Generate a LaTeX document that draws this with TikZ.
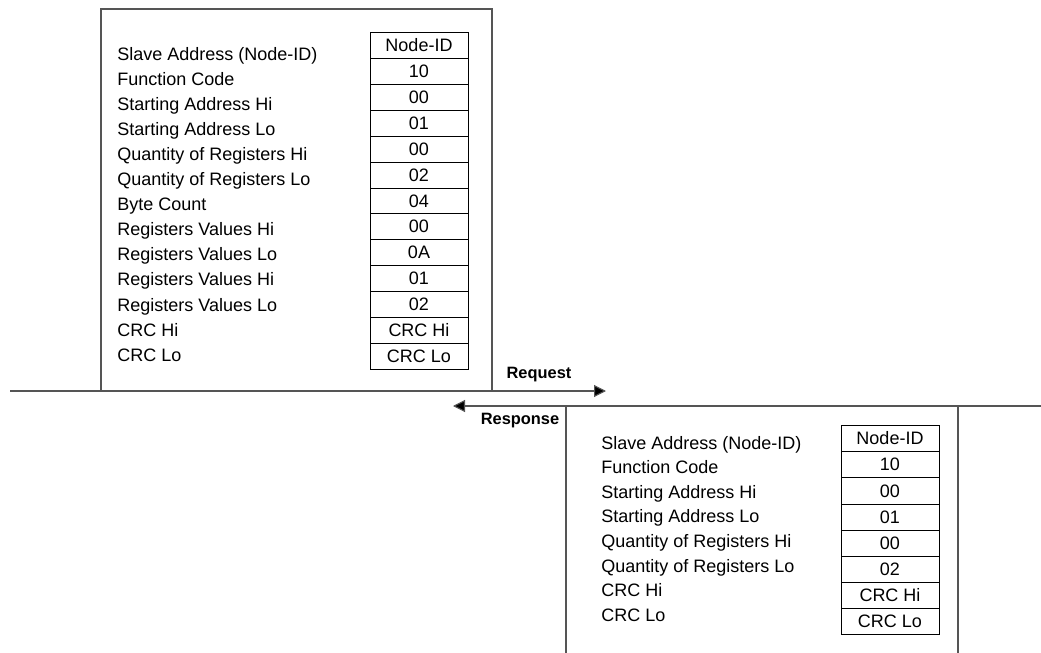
\documentclass[tikz,border=0pt]{standalone}
\usepackage{fontspec}
\setmainfont{Liberation Sans}
\usetikzlibrary{arrows.meta, positioning}
\definecolor{framegray}{RGB}{85, 85, 85}

\begin{document}
\begin{tikzpicture}[
    x=0.5pt, y=-0.5pt,
    field/.style={anchor=west, inner sep=0pt, text height=1.55ex, text depth=0.4ex},
    cell/.style={draw=black, line width=0.5pt, minimum width=49pt, minimum height=#1, inner sep=0pt, text height=1.55ex, text depth=0.4ex},
    msg/.style={font=\fontsize{8.2}{10}\selectfont\bfseries, inner sep=0pt},
    frame/.style={draw=framegray, line width=0.55pt},
    every node/.style={font=\fontsize{9}{11}\selectfont}
]
\useasboundingbox (0,0) rectangle (1041,653);

% Request frame
\draw[frame] (101,9) rectangle (492,391);
\foreach \i/\t/\v in {1/{Slave Address (Node-ID)}/Node-ID, 2/Function Code/10,
    3/Starting Address Hi/00, 4/Starting Address Lo/01,
    5/Quantity of Registers Hi/00, 6/Quantity of Registers Lo/02,
    7/Byte Count/04, 8/Registers Values Hi/00, 9/Registers Values Lo/0A,
    10/Registers Values Hi/01, 11/Registers Values Lo/02,
    12/CRC Hi/CRC Hi, 13/CRC Lo/CRC Lo} {
    \node[field] (rqlbl\i) at (117, 54+25.1*\i-25.1) {\t};
    \node[cell=12.93pt] (rq\i) at (419, 45.9+25.85*\i-25.85) {\v};
}

% Response frame
\draw[frame] (566,653) -- (566,406);
\draw[frame] (958,406) -- (958,653);
\foreach \i/\t/\v in {1/{Slave Address (Node-ID)}/Node-ID, 2/Function Code/10,
    3/Starting Address Hi/00, 4/Starting Address Lo/01,
    5/Quantity of Registers Hi/00, 6/Quantity of Registers Lo/02,
    7/CRC Hi/CRC Hi, 8/CRC Lo/CRC Lo} {
    \node[field] (rslbl\i) at (601, 443+24.6*\i-24.6) {\t};
    \node[cell=13.05pt] (rs\i) at (890, 438.75+26.1*\i-26.1) {\v};
}

% Bus lines
\coordinate (rqfrom) at (10,391);
\coordinate (rqto) at (606,391);
\coordinate (rsfrom) at (1041,406);
\coordinate (rsto) at (453,406);
\draw[frame, -{Triangle[length=6pt, width=6pt, fill=black]}] (rqfrom) -- (rqto);
\draw[frame, -{Triangle[length=6pt, width=6pt, fill=black]}] (rsfrom) -- (rsto);

\node[msg] (request) at (539,375) {Request};
\node[msg] (response) at (520,421) {Response};

\end{tikzpicture}
\end{document}
